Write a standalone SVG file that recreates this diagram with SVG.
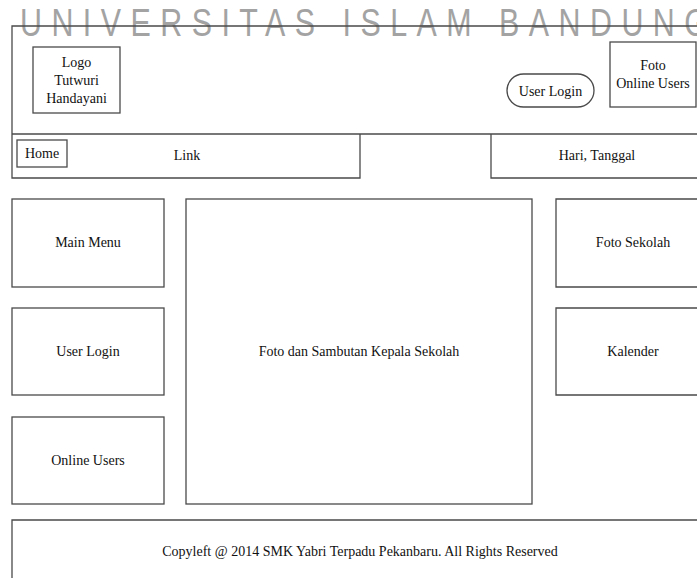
<svg xmlns="http://www.w3.org/2000/svg" width="697" height="578" viewBox="0 0 697 578">
<style>
.b{fill:none;stroke:#4a4a4a;stroke-width:1.3}
.t{font-family:"Liberation Serif","Times New Roman",serif;font-size:14px;fill:#111;text-anchor:middle}
.wm{font-family:"Liberation Sans",Arial,sans-serif;font-size:39px;fill:#a3a3a3}
</style>
<rect width="697" height="578" fill="#fff"/>
<text class="wm" transform="scale(0.78,1)" x="25.6" y="36" textLength="882" lengthAdjust="spacing">UNIVERSITAS ISLAM BANDUNG</text>
<g id="header">
<path class="b" d="M12,134 V26 H697"/>
<line class="b" x1="12" y1="134" x2="697" y2="134"/>
</g>
<g id="logo"><rect class="b" x="33" y="47" width="87" height="66"/>
<text class="t" x="76.5" y="67">Logo</text><text class="t" x="76.5" y="85">Tutwuri</text><text class="t" x="76.5" y="103">Handayani</text></g>
<g id="user-login-btn"><rect class="b" x="507" y="74" width="87" height="33" rx="16.5"/>
<text class="t" x="550.5" y="95.5">User Login</text></g>
<g id="foto-online"><rect class="b" x="610" y="42" width="86" height="65"/>
<text class="t" x="653" y="70">Foto</text><text class="t" x="653" y="88">Online Users</text></g>
<g id="link"><path class="b" d="M12,134 V178 H360 V134"/>
<text class="t" x="187" y="160">Link</text></g>
<g id="home"><rect class="b" x="17" y="140" width="50" height="27"/>
<text class="t" x="42" y="157.5">Home</text></g>
<g id="tanggal"><path class="b" d="M491,134 V178 H697"/>
<text class="t" x="597" y="160">Hari, Tanggal</text></g>
<g id="main-menu"><rect class="b" x="12" y="199" width="152" height="88"/><text class="t" x="88" y="247">Main Menu</text></g>
<g id="user-login"><rect class="b" x="12" y="308" width="152" height="87"/><text class="t" x="88" y="356">User Login</text></g>
<g id="online-users"><rect class="b" x="12" y="417" width="152" height="87"/><text class="t" x="88" y="465">Online Users</text></g>
<g id="center"><rect class="b" x="186" y="199" width="346" height="305"/><text class="t" x="359" y="356">Foto dan Sambutan Kepala Sekolah</text></g>
<g id="foto-sekolah"><path class="b" d="M697,199 H556 V287 H697"/><text class="t" x="633" y="247">Foto Sekolah</text></g>
<g id="kalender"><path class="b" d="M697,308 H556 V395 H697"/><text class="t" x="633" y="356">Kalender</text></g>
<g id="footer"><path class="b" d="M12,578 V520 H697"/><text class="t" x="360" y="556">Copyleft @ 2014 SMK Yabri Terpadu Pekanbaru. All Rights Reserved</text></g>
<g id="connectors"></g>
</svg>
